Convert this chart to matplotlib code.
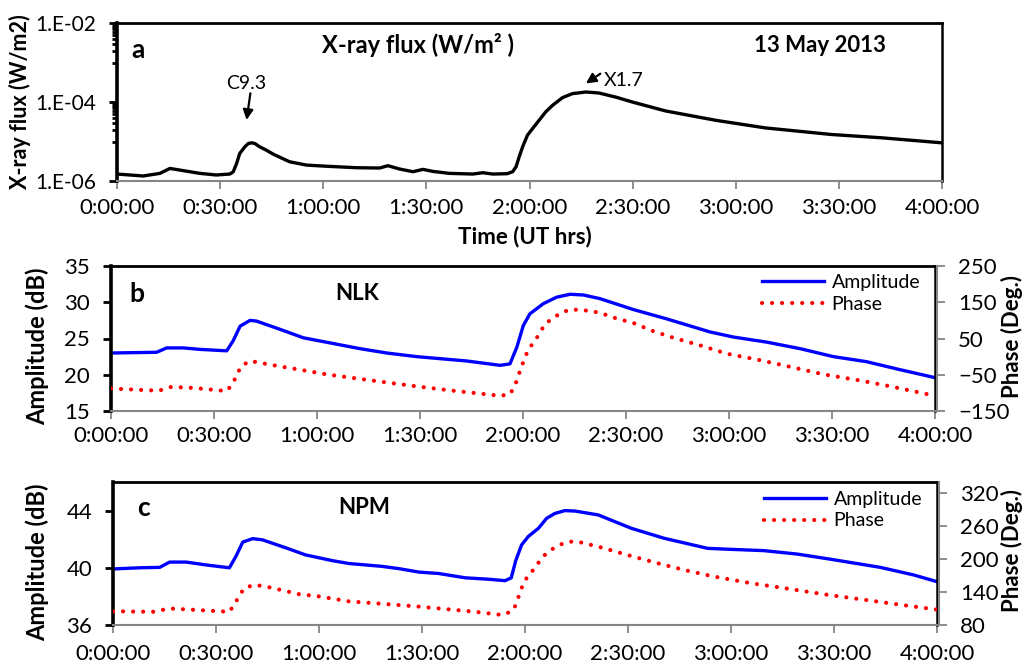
import matplotlib
matplotlib.use("Agg")
import matplotlib.pyplot as plt
from matplotlib.ticker import FixedLocator, NullFormatter

plt.rcParams['font.family'] = ['Lato', 'DejaVu Sans']

# ---------------- data (time in minutes after 00:00 UT) ----------------
tick_minutes = [0, 30, 60, 90, 120, 150, 180, 210, 240]
tick_labels = ["0:00:00", "0:30:00", "1:00:00", "1:30:00", "2:00:00",
               "2:30:00", "3:00:00", "3:30:00", "4:00:00"]

xray_t = [0, 7.6, 12.5, 15.4, 18.3, 24.1, 28.9, 32.8, 33.8, 34.8,
          35.7, 37.2, 38.2, 39.1, 40.1, 41.5, 43.5, 45.4, 50.2, 55.1,
          59.9, 69.6, 76.4, 78.8, 82.2, 86.1, 89.0, 91.9, 96.7, 103.5,
          106.4, 109.3, 113.5, 115.1, 116.1, 117.0, 118.0, 119.4, 120.9, 122.8,
          124.7, 126.7, 129.6, 132.5, 136.4, 140.2, 145.1, 149.9, 159.6, 174.1,
          188.6, 208.0, 222.5, 240]
xray_flux = [1.50e-6, 1.34e-6, 1.56e-6, 2.08e-6, 1.89e-6, 1.56e-6, 1.42e-6, 1.50e-6, 1.70e-6, 2.79e-6,
             4.98e-6, 7.35e-6, 8.90e-6, 9.25e-6, 8.90e-6, 7.35e-6, 6.00e-6, 4.80e-6, 3.07e-6, 2.53e-6,
             2.39e-6, 2.17e-6, 2.13e-6, 2.44e-6, 2.01e-6, 1.72e-6, 1.97e-6, 1.75e-6, 1.56e-6, 1.50e-6,
             1.62e-6, 1.50e-6, 1.53e-6, 1.72e-6, 2.30e-6, 4.10e-6, 7.35e-6, 1.44e-5, 2.13e-5, 3.45e-5,
             5.60e-5, 8.24e-5, 1.29e-4, 1.63e-4, 1.79e-4, 1.69e-4, 1.33e-4, 1.00e-4, 5.93e-5, 3.45e-5,
             2.21e-5, 1.50e-5, 1.24e-5, 9.25e-6]

nlk_amp_t = [0, 13.3, 16.2, 21.1, 25.9, 33.7, 35.6, 37.6, 40.5, 42.4,
             50.2, 56.0, 64.8, 72.5, 80.3, 89.0, 103.6, 113.3, 116.2, 118.2,
             120.1, 122.0, 125.9, 129.8, 133.7, 137.6, 142.4, 152.1, 161.9, 174.5,
             181.3, 191.0, 200.7, 210.4, 220.1, 229.8, 240]
nlk_amp = [23.0, 23.1, 23.7, 23.7, 23.5, 23.3, 24.7, 26.7, 27.5, 27.4,
           26.1, 25.1, 24.3, 23.6, 23.0, 22.5, 21.9, 21.3, 21.5, 23.8,
           26.8, 28.4, 29.8, 30.7, 31.1, 31.0, 30.5, 29.0, 27.7, 25.9,
           25.2, 24.5, 23.6, 22.5, 21.8, 20.7, 19.6]

nlk_ph_t = [0, 11.4, 14.3, 17.2, 22.0, 25.9, 33.7, 35.6, 36.6, 38.1,
            40.5, 43.4, 49.2, 55.0, 62.8, 70.6, 79.3, 89.0, 98.7, 107.5,
            113.3, 116.2, 117.7, 118.6, 119.5, 121.5, 123.4, 124.9, 126.3, 128.8,
            131.2, 133.7, 136.6, 139.5, 142.4, 147.3, 152.1, 158.0, 163.8, 171.6,
            179.4, 188.1, 195.9, 207.6, 218.3, 227.0, 238.5]
nlk_ph = [-88, -93, -93, -84, -85, -88, -95, -73, -49, -25,
          -12, -17, -27, -36, -49, -59, -70, -82, -93, -102,
          -108, -104, -79, -54, -29, 19, 43, 65, 89, 107,
          121, 130, 129, 126, 121, 105, 93, 70, 52, 31,
          8, -8, -24, -49, -66, -82, -105]

npm_amp_t = [0, 7.7, 13.6, 16.5, 21.3, 27.1, 33.9, 35.8, 37.8, 40.7,
             43.6, 50.3, 56.1, 63.9, 68.7, 78.4, 83.3, 89.1, 94.9, 102.6,
             109.4, 114.2, 116.0, 117.3, 119.0, 121.0, 123.9, 126.3, 128.7, 131.6,
             134.5, 141.3, 151.0, 160.6, 173.2, 180.0, 189.6, 199.3, 209.0, 223.5,
             233.2, 240]
npm_amp = [39.92, 40.0, 40.03, 40.4, 40.4, 40.2, 40.0, 40.8, 41.8, 42.04,
           41.95, 41.4, 40.9, 40.5, 40.3, 40.1, 39.94, 39.7, 39.6, 39.3,
           39.2, 39.1, 39.3, 40.5, 41.6, 42.2, 42.76, 43.46, 43.8, 44.0,
           43.97, 43.7, 42.76, 42.06, 41.36, 41.29, 41.2, 40.96, 40.6, 40.03,
           39.5, 39.03]

npm_ph_t = [0, 11.6, 16.5, 25.2, 33.9, 35.3, 36.8, 38.2, 41.1, 44.5,
            49.4, 54.2, 60.0, 68.7, 77.4, 88.1, 96.8, 105.5, 112.3, 114.0,
            116.6, 117.6, 118.5, 119.5, 121.0, 122.9, 124.3, 126.3, 128.7, 131.6,
            134.0, 136.4, 142.2, 150.0, 158.2, 166.4, 175.1, 185.8, 194.5, 208.0,
            218.7, 230.3, 240]
npm_ph = [105, 104, 110, 107, 104, 117, 133, 147, 153, 150,
          143, 136, 132, 123, 119, 114, 109, 104, 99, 99,
          107, 121, 139, 155, 171, 183, 197, 211, 221, 230,
          232, 230, 221, 207, 193, 180, 168, 156, 148, 135,
          126, 116, 108]

# ---------------- figure ----------------
W, H = 1026, 664
fig = plt.figure(figsize=(W / 100, H / 100), dpi=100)

def box(l, r, t, b):
    return [l / W, 1 - b / H, (r - l) / W, (b - t) / H]

BLUE = '#0000FF'
RED = '#FF0000'
GRAY = '#868686'
TICK_FS = 16
BOLD_FS = 16

def style_x(ax, pad):
    ax.set_xlim(0, 240)
    ax.xaxis.set_major_locator(FixedLocator(tick_minutes))
    ax.set_xticklabels(tick_labels)
    ax.tick_params(axis='x', direction='out', length=6, width=1.3, color=GRAY,
                   labelsize=TICK_FS, pad=pad)
    ax.spines['bottom'].set_color(GRAY)
    ax.spines['bottom'].set_linewidth(1.5)
    ax.spines['top'].set_linewidth(2.0)
    ax.spines['right'].set_linewidth(1.8)
    ax.spines['left'].set_linewidth(2.6)

# ---- panel a ----
axa = fig.add_axes(box(117, 942, 23, 181))
axa.plot(xray_t, xray_flux, color='black', lw=2.4, solid_joinstyle='round',
         solid_capstyle='round')
axa.set_yscale('log')
axa.set_ylim(1e-6, 1e-2)
axa.yaxis.set_major_locator(FixedLocator([1e-6, 1e-4, 1e-2]))
axa.set_yticklabels(["1.E-06", "1.E-04", "1.E-02"])
minors = [m * 1e-5 for m in range(1, 10)] + [m * 1e-3 for m in range(1, 10)]
axa.yaxis.set_minor_locator(FixedLocator(minors))
axa.yaxis.set_minor_formatter(NullFormatter())
axa.tick_params(axis='y', which='major', direction='out', length=6, width=2,
                labelsize=15, pad=9)
axa.tick_params(axis='y', which='minor', direction='out', length=3.5, width=2)
style_x(axa, 6)
axa.text(0.025, 0.83, 'a', transform=axa.transAxes, fontsize=19, fontweight='bold',
         ha='center', va='center')
axa.text(0.365, 0.86, 'X-ray flux (W/m² )', transform=axa.transAxes, fontsize=17,
         fontweight='bold', ha='center', va='center')
axa.text(0.852, 0.86, '13 May 2013', transform=axa.transAxes, fontsize=BOLD_FS,
         fontweight='bold', ha='center', va='center')
# C9.3 annotation
axa.annotate('', xy=(37.7, 3.5e-5), xytext=(38.8, 1.66e-4),
             arrowprops=dict(arrowstyle='-|>', color='black', lw=1.6,
                             mutation_scale=15, shrinkA=0, shrinkB=0))
axa.text(37.7, 2.95e-4, 'C9.3', fontsize=14, ha='center', va='center')
# X1.7 annotation
axa.annotate('', xy=(136.4, 2.95e-4), xytext=(140.6, 5.2e-4),
             arrowprops=dict(arrowstyle='-|>', color='black', lw=1.6,
                             mutation_scale=15, shrinkA=0, shrinkB=0))
axa.text(141.6, 3.6e-4, 'X1.7', fontsize=14, ha='left', va='center')
fig.text(525 / W, 1 - 237 / H, 'Time (UT hrs)', fontsize=BOLD_FS, fontweight='bold',
         ha='center', va='center')
fig.text(20 / W, 1 - 102 / H, 'X-ray flux (W/m2)', fontsize=15.5, fontweight='bold',
         ha='center', va='center', rotation=90)

def vlf_panel(rect, amp_t, amp, ph_t, ph, ylim_l, yticks_l, ylim_r, yticks_r,
              letter, station, letter_xy, station_xy, xpad, yl_y, yr_y, leg_anchor):
    ax = fig.add_axes(rect)
    ax2 = ax.twinx()
    l1, = ax.plot(amp_t, amp, color=BLUE, lw=2.4, solid_joinstyle='round')
    l2, = ax2.plot(ph_t, ph, color=RED, lw=3.0, linestyle=(0, (0.01, 2.4)),
                   dash_capstyle='round')
    ax.set_ylim(*ylim_l)
    ax.yaxis.set_major_locator(FixedLocator(yticks_l))
    ax.tick_params(axis='y', direction='out', length=6, width=2, labelsize=TICK_FS, pad=9)
    ax2.set_ylim(*ylim_r)
    ax2.yaxis.set_major_locator(FixedLocator(yticks_r))
    ax2.tick_params(axis='y', direction='out', length=6, width=1.3, color=GRAY,
                    labelsize=TICK_FS, pad=9)
    ax2.spines['right'].set_color(GRAY)
    ax2.spines['right'].set_linewidth(1.5)
    ax2.spines['right'].set_position(('outward', 1.5))
    for s in ('top', 'left', 'bottom'):
        ax2.spines[s].set_visible(False)
    style_x(ax, xpad)
    ax.spines['right'].set_color('black')
    ax.text(letter_xy[0], letter_xy[1], letter, transform=ax.transAxes, fontsize=19,
            fontweight='bold', ha='center', va='center')
    ax.text(station_xy[0], station_xy[1], station, transform=ax.transAxes, fontsize=BOLD_FS,
            fontweight='bold', ha='center', va='center')
    ax2.legend([l1, l2], ['Amplitude', 'Phase'], loc='upper right',
               bbox_to_anchor=leg_anchor, frameon=False, fontsize=14,
               handlelength=3.2, handletextpad=0.4, borderpad=0,
               borderaxespad=0, labelspacing=0.25)
    fig.text(37 / W, 1 - yl_y / H, 'Amplitude (dB)', fontsize=17, fontweight='bold',
             ha='center', va='center', rotation=90)
    fig.text(1012 / W, 1 - yr_y / H, 'Phase (Deg.)', fontsize=BOLD_FS, fontweight='bold',
             ha='center', va='center', rotation=90)
    return ax, ax2

vlf_panel(box(111, 935, 266, 411), nlk_amp_t, nlk_amp, nlk_ph_t, nlk_ph,
          (15, 35), [15, 20, 25, 30, 35], (-150, 250), [-150, -50, 50, 150, 250],
          'b', 'NLK', (0.032, 0.807), (0.299, 0.808), 4.5, 346, 337, (0.982, 0.945))

vlf_panel(box(113, 937, 482, 625), npm_amp_t, npm_amp, npm_ph_t, npm_ph,
          (36, 46), [36, 40, 44], (80, 340), [80, 140, 200, 260, 320],
          'c', 'NPM', (0.037, 0.82), (0.305, 0.82), 7.5, 562, 551, (0.982, 0.94))

fig.savefig('out.png', dpi=100)
